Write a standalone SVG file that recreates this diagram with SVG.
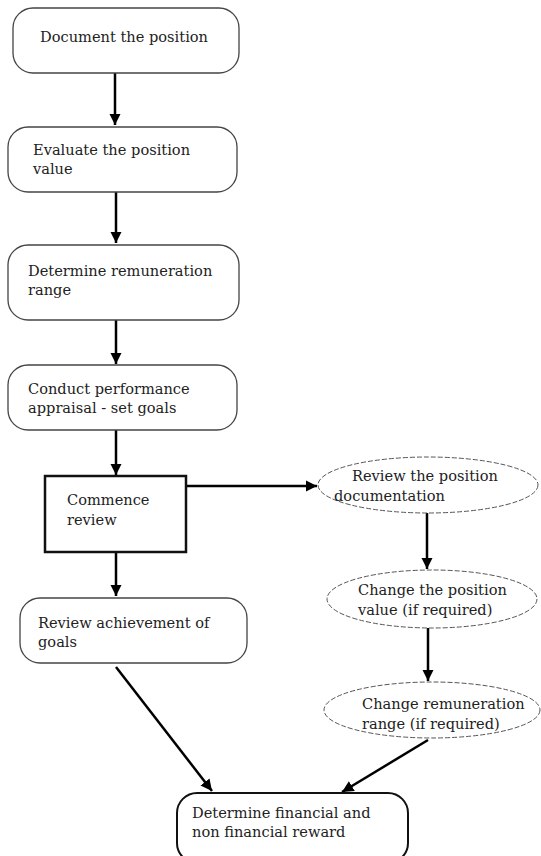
<svg xmlns="http://www.w3.org/2000/svg" width="541" height="856" viewBox="0 0 541 856">
<style>
.t{font-family:"DejaVu Serif","Liberation Serif",serif;font-size:14.6px;fill:#222}
.rr{fill:#fff;stroke:#444;stroke-width:1.3}
.rb{fill:#fff;stroke:#111;stroke-width:2.5}
.el{fill:#fff;stroke:#555;stroke-width:1;stroke-dasharray:5 2}
.c{stroke:#000;stroke-width:2.5;fill:none;marker-end:url(#ah)}
</style>
<defs>
<marker id="ah" viewBox="0 0 10 10" refX="10" refY="5" markerWidth="4.6" markerHeight="4.6" orient="auto" markerUnits="strokeWidth">
<path d="M0,0 L10,5 L0,10 z" fill="#000"/>
</marker>
</defs>
<rect width="541" height="856" fill="#fff"/>
<g id="connectors">
<line class="c" x1="115" y1="73" x2="115" y2="125"/>
<line class="c" x1="116" y1="192" x2="116" y2="243"/>
<line class="c" x1="116" y1="320" x2="116" y2="364"/>
<line class="c" x1="116" y1="430" x2="116" y2="475"/>
<line class="c" x1="186" y1="486" x2="317" y2="486"/>
<line class="c" x1="116" y1="552" x2="116" y2="596"/>
<line class="c" x1="427" y1="513" x2="427" y2="569"/>
<line class="c" x1="428" y1="628" x2="428" y2="681"/>
<line class="c" x1="116" y1="667" x2="212" y2="791"/>
<line class="c" x1="428" y1="740" x2="342" y2="792"/>
</g>
<g id="n1">
<rect class="rr" x="13" y="8" width="226" height="65" rx="20"/>
<text class="t" x="40" y="42">Document the position</text>
</g>
<g id="n2">
<rect class="rr" x="8" y="127" width="229" height="65" rx="20"/>
<text class="t" x="33" y="155">Evaluate the position</text>
<text class="t" x="33" y="174">value</text>
</g>
<g id="n3">
<rect class="rr" x="8" y="245" width="231" height="75" rx="20"/>
<text class="t" x="28" y="276">Determine remuneration</text>
<text class="t" x="28" y="295">range</text>
</g>
<g id="n4">
<rect class="rr" x="8" y="365" width="229" height="65" rx="20"/>
<text class="t" x="28" y="394">Conduct performance</text>
<text class="t" x="28" y="413">appraisal - set goals</text>
</g>
<g id="n5">
<rect class="rb" x="45" y="476" width="141" height="76"/>
<text class="t" x="67" y="505">Commence</text>
<text class="t" x="67" y="525">review</text>
</g>
<g id="n6">
<rect class="rr" x="20" y="598" width="227" height="65" rx="20"/>
<text class="t" x="38" y="628">Review achievement of</text>
<text class="t" x="38" y="647">goals</text>
</g>
<g id="n7">
<ellipse class="el" cx="428" cy="485" rx="110" ry="28"/>
<text class="t" x="352" y="481">Review the position</text>
<text class="t" x="334" y="501">documentation</text>
</g>
<g id="n8">
<ellipse class="el" cx="432" cy="599" rx="105" ry="29"/>
<text class="t" x="358" y="595">Change the position</text>
<text class="t" x="358" y="615">value (if required)</text>
</g>
<g id="n9">
<ellipse class="el" cx="432" cy="710" rx="108" ry="28"/>
<text class="t" x="362" y="709">Change remuneration</text>
<text class="t" x="362" y="729">range (if required)</text>
</g>
<g id="n10">
<rect x="177" y="793" width="231" height="70" rx="20" fill="#fff" stroke="#111" stroke-width="2"/>
<text class="t" x="192" y="818">Determine financial and</text>
<text class="t" x="192" y="837">non financial reward</text>
</g>
</svg>
